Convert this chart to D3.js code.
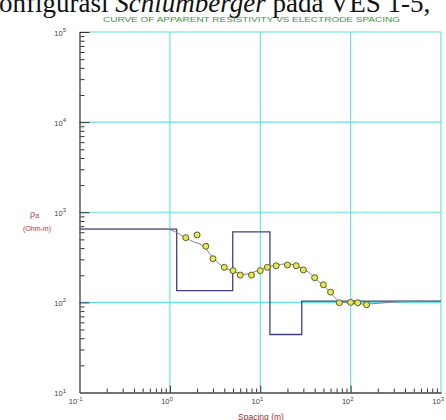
<!DOCTYPE html>
<html>
<head>
<meta charset="utf-8">
<script src="https://cdn.jsdelivr.net/npm/d3@7"></script>
<style>
  html, body { margin: 0; padding: 0; background: #fff; }
  svg { display: block; }
</style>
</head>
<body>
<svg id="chart"></svg>
<script>
// VES sounding: observed apparent resistivity, calculated curve and layered model
const spacing = [1.5, 2, 2.5, 3, 4, 5, 6, 8, 10, 12, 15, 20, 25, 30, 40, 50, 60, 75, 100, 120, 150];
const rhoObserved = [522, 560, 419, 305, 245, 225, 201, 201, 225, 245, 255, 260, 255, 229, 188, 157, 130, 99, 100, 99, 94];

const curveSpacing = [0.1, 0.88, 1.0, 1.19, 1.43, 1.82, 2.39, 2.93, 3.87, 4.87, 5.82, 6.78, 7.7, 9.77, 12, 15.2, 19.1, 24.3, 29.5, 35.6, 39.4, 49.1, 59.2, 76.3, 98, 144, 211, 310, 585, 1000];
const curveRho = [651, 651, 640, 596, 531, 471, 415, 321, 249, 224, 210, 205, 210, 229, 245, 260, 267, 260, 233, 210, 188, 157, 130, 102, 98, 96, 98, 101, 103, 103];

// layer tops (m) and layer resistivities (ohm-m)
const layerTop = [0.1, 1.19, 4.96, 12.8, 28.8, 1000];
const layerRho = [651, 135, 605, 44, 103, 103];

const xDecades = [0.1, 1, 10, 100, 1000];
const xExponents = ["-1", "0", "1", "2", "3"];
const yDecades = [10, 100, 1000, 10000, 100000];
const yExponents = ["1", "2", "3", "4", "5"];

const width = 446, height = 420;
const svg = d3.select("#chart").attr("width", width).attr("height", height);

const x = d3.scaleLog().domain([0.1, 1000]).range([79.5, 441]);
const y = d3.scaleLog().domain([10, 100000]).range([392.5, 32]);

// minor tick positions
const minorX = [], minorY = [];
[0.1, 1, 10, 100].forEach(d => { for (let k = 2; k <= 9; k++) minorX.push(k * d); });
[10, 100, 1000, 10000].forEach(d => { for (let k = 2; k <= 9; k++) minorY.push(k * d); });

// page text above the chart (cropped document line)
const pageLine = svg.append("text")
    .attr("x", -1)
    .attr("y", 12)
    .attr("font-family", "Liberation Serif, Times New Roman, serif")
    .attr("font-size", 27)
    .attr("fill", "#111");
pageLine.append("tspan").text("onfigurasi ");
pageLine.append("tspan").attr("font-style", "italic").text("Schlumberger");
pageLine.append("tspan").text(" pada VES 1-5,");

// title
svg.append("text")
    .attr("x", 103)
    .attr("y", 21.5)
    .attr("textLength", 297)
    .attr("lengthAdjust", "spacingAndGlyphs")
    .attr("font-family", "Liberation Sans, Arial, sans-serif")
    .attr("font-size", 7.5)
    .attr("fill", "#3e9a3e")
    .text("CURVE OF APPARENT RESISTIVITY VS ELECTRODE SPACING");

// grid
const grid = svg.append("g").attr("stroke", "#5fe2e2").attr("stroke-width", 1.1);
grid.selectAll("line.gx")
    .data(xDecades.slice(1))
    .join("line")
    .attr("x1", d => x(d)).attr("x2", d => x(d))
    .attr("y1", y(100000)).attr("y2", y(10));
grid.selectAll("line.gy")
    .data(yDecades.slice(1))
    .join("line")
    .attr("x1", x(0.1)).attr("x2", x(1000))
    .attr("y1", d => y(d)).attr("y2", d => y(d));

// axes with inward ticks
const yMinorAxis = d3.axisLeft(y).tickValues(minorY).tickSizeInner(-5).tickSizeOuter(0).tickFormat("");
const yMajorAxis = d3.axisLeft(y).tickValues(yDecades.slice(1)).tickSizeInner(-10).tickSizeOuter(0).tickFormat("");
const xMinorAxis = d3.axisBottom(x).tickValues(minorX).tickSizeInner(-4).tickSizeOuter(0).tickFormat("");
const xMajorAxis = d3.axisBottom(x).tickValues(xDecades.slice(1, 4)).tickSizeInner(-7).tickSizeOuter(0).tickFormat("");

[yMinorAxis, yMajorAxis].forEach(a => {
    const g = svg.append("g").attr("transform", `translate(${x(0.1)},0)`).call(a);
    g.select(".domain").attr("stroke", "#6a6a6a").attr("stroke-width", 1.2);
    g.selectAll(".tick line").attr("stroke", "#333").attr("stroke-width", 1);
});
[xMinorAxis, xMajorAxis].forEach(a => {
    const g = svg.append("g").attr("transform", `translate(0,${y(10)})`).call(a);
    g.select(".domain").attr("stroke", "#444").attr("stroke-width", 1.2);
    g.selectAll(".tick line").attr("stroke", "#333").attr("stroke-width", 1);
});

// tick labels with superscript exponents
function powerLabel(sel, exps) {
    sel.append("tspan").text("10");
    sel.append("tspan")
        .attr("dy", -3.5)
        .attr("font-size", 6)
        .text((d, i) => exps[i]);
}

svg.append("g")
    .attr("font-family", "Liberation Sans, Arial, sans-serif")
    .attr("font-size", 7.5)
    .attr("fill", "#444")
    .selectAll("text")
    .data(yDecades)
    .join("text")
    .attr("x", 66)
    .attr("y", d => y(d) + 3.5)
    .attr("text-anchor", "end")
    .call(powerLabel, yExponents);

svg.append("g")
    .attr("font-family", "Liberation Sans, Arial, sans-serif")
    .attr("font-size", 7.5)
    .attr("fill", "#444")
    .selectAll("text")
    .data(xDecades)
    .join("text")
    .attr("x", d => x(d) + 3)
    .attr("y", 404)
    .attr("text-anchor", "end")
    .call(powerLabel, xExponents);

// axis titles
const rhoLabel = svg.append("text")
    .attr("x", 30)
    .attr("y", 217)
    .attr("font-family", "Liberation Sans, Arial, sans-serif")
    .attr("font-size", 9)
    .attr("fill", "#b04444");
rhoLabel.append("tspan").text("ρ");
rhoLabel.append("tspan").attr("font-size", 7).attr("dy", 1).text("a");

svg.append("text")
    .attr("x", 37)
    .attr("y", 231)
    .attr("text-anchor", "middle")
    .attr("font-family", "Liberation Sans, Arial, sans-serif")
    .attr("font-size", 7)
    .attr("fill", "#b03a3a")
    .text("(Ohm-m)");

svg.append("text")
    .attr("x", 261)
    .attr("y", 419.5)
    .attr("text-anchor", "middle")
    .attr("font-family", "Liberation Sans, Arial, sans-serif")
    .attr("font-size", 8.5)
    .attr("fill", "#a03030")
    .text("Spacing (m)");

// layered model (step line)
const model = layerTop.map((d, i) => ({ x: d, rho: layerRho[i] }));
svg.append("path")
    .datum(model)
    .attr("fill", "none")
    .attr("stroke", "#45407f")
    .attr("stroke-width", 1.3)
    .attr("d", d3.line().x(d => x(d.x)).y(d => y(d.rho)).curve(d3.curveStepAfter));

// calculated curve
const calc = curveSpacing.map((d, i) => ({ x: d, rho: curveRho[i] }));
svg.append("path")
    .datum(calc)
    .attr("fill", "none")
    .attr("stroke", "#8a7b99")
    .attr("stroke-width", 1)
    .attr("d", d3.line().x(d => x(d.x)).y(d => y(d.rho)).curve(d3.curveMonotoneX));

// observed data
svg.append("g")
    .selectAll("circle")
    .data(spacing.map((d, i) => ({ x: d, rho: rhoObserved[i] })))
    .join("circle")
    .attr("cx", d => x(d.x))
    .attr("cy", d => y(d.rho))
    .attr("r", 3)
    .attr("fill", "#e6e65a")
    .attr("stroke", "#5e5e20")
    .attr("stroke-width", 1);
</script>
</body>
</html>
